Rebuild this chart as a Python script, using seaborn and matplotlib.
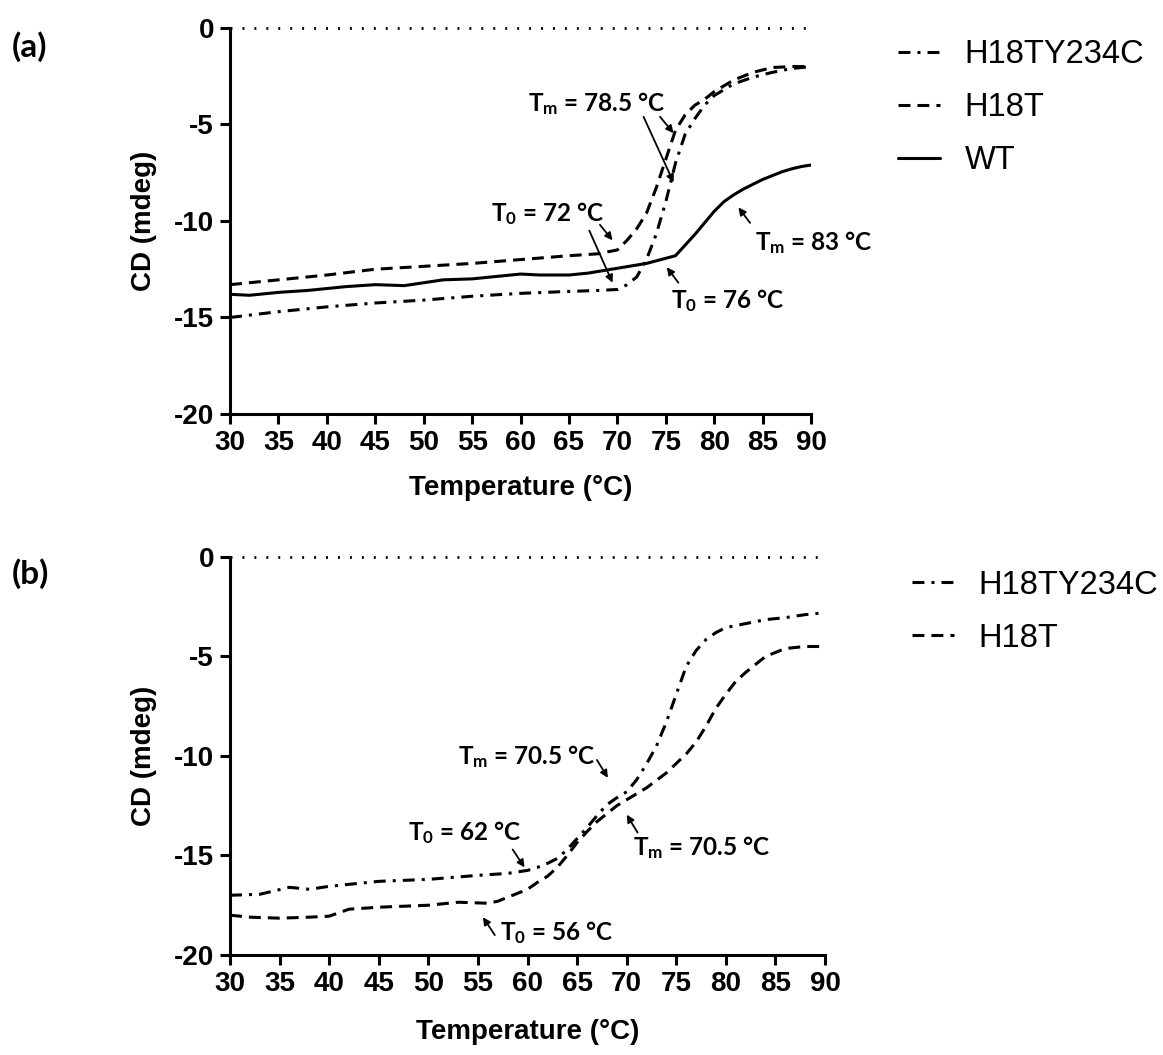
import numpy as np
import pandas as pd
import matplotlib
matplotlib.use("Agg")
import matplotlib.pyplot as plt
import seaborn as sns
from matplotlib.lines import Line2D

# ---------------- data: CD signal (mdeg) versus temperature (°C) ----------------
# panel (a)
a_wt_temp = [30, 32, 35, 38, 40, 42, 45, 48, 50, 52, 55, 58, 60, 62, 65, 67, 70, 73,
             76, 77, 78, 79, 80, 81, 82, 83, 84, 85, 86, 87, 88, 89, 90]
a_wt_cd = [-13.8, -13.85, -13.7, -13.6, -13.5, -13.4, -13.3, -13.35, -13.2, -13.05, -13.0,
           -12.85, -12.75, -12.8, -12.8, -12.7, -12.45, -12.2, -11.8, -11.25, -10.7, -10.1,
           -9.5, -9.0, -8.65, -8.35, -8.1, -7.85, -7.65, -7.45, -7.3, -7.18, -7.1]

a_h18t_temp = [30, 35, 40, 45, 50, 55, 60, 65, 68, 70, 71, 72, 73, 74, 75, 76, 77, 78,
               79, 80, 82, 84, 86, 88, 90]
a_h18t_cd = [-13.3, -13.05, -12.8, -12.5, -12.35, -12.2, -12.0, -11.8, -11.7, -11.5, -11.0,
             -10.4, -9.6, -8.3, -6.8, -5.3, -4.5, -4.0, -3.7, -3.3, -2.7, -2.3, -2.05,
             -2.0, -2.0]

a_y234c_temp = [30, 35, 40, 45, 50, 55, 60, 65, 68, 70, 71, 72, 73, 74, 75, 76, 77, 78,
                79, 80, 82, 84, 86, 88, 90]
a_y234c_cd = [-15.0, -14.7, -14.45, -14.25, -14.1, -13.9, -13.75, -13.65, -13.6, -13.55,
              -13.3, -12.9, -12.0, -10.7, -9.0, -7.0, -5.5, -4.7, -4.0, -3.5, -2.9,
              -2.55, -2.3, -2.1, -2.0]

# panel (b)
b_h18t_temp = [30, 32, 35, 38, 40, 42, 45, 50, 53, 56, 57, 58, 59, 60, 61, 62, 63, 64, 65,
               66, 67, 68, 69, 70, 72, 74, 76, 77, 78, 79, 80, 81, 82, 84, 86, 88, 90]
b_h18t_cd = [-18.0, -18.1, -18.15, -18.1, -18.05, -17.7, -17.6, -17.5, -17.35, -17.4,
             -17.3, -17.1, -16.9, -16.7, -16.35, -16.05, -15.6, -15.0, -14.35, -13.8,
             -13.3, -12.9, -12.5, -12.2, -11.6, -10.85, -9.9, -9.3, -8.5, -7.6, -6.9,
             -6.25, -5.8, -5.0, -4.6, -4.5, -4.5]

b_y234c_temp = [30, 33, 36, 38, 40, 45, 50, 55, 58, 60, 61, 62, 63, 64, 65, 66, 67, 68,
                69, 70, 71, 72, 73, 74, 75, 76, 77, 78, 79, 80, 82, 84, 86, 88, 90]
b_y234c_cd = [-17.0, -16.95, -16.6, -16.7, -16.55, -16.3, -16.2, -16.0, -15.9, -15.75,
              -15.6, -15.4, -15.15, -14.7, -14.15, -13.6, -13.0, -12.45, -12.1, -11.8,
              -11.2, -10.4, -9.5, -8.3, -6.9, -5.5, -4.7, -4.15, -3.8, -3.55, -3.35,
              -3.15, -3.05, -2.9, -2.8]

samples_a = ["H18TY234C", "H18T", "WT"]
samples_b = ["H18TY234C", "H18T"]
x_ticks = list(range(30, 91, 5))
y_ticks = list(range(-20, 1, 5))


def long_frame(curves):
    frames = []
    for name, (t, cd) in curves.items():
        frames.append(pd.DataFrame({"Temperature": t, "CD": cd, "Sample": name}))
    return pd.concat(frames, ignore_index=True)


df_a = long_frame({"H18TY234C": (a_y234c_temp, a_y234c_cd),
                   "H18T": (a_h18t_temp, a_h18t_cd),
                   "WT": (a_wt_temp, a_wt_cd)})
df_b = long_frame({"H18TY234C": (b_y234c_temp, b_y234c_cd),
                   "H18T": (b_h18t_temp, b_h18t_cd)})

# ---------------- style ----------------
sns.set_theme(style="ticks")
plt.rcParams["font.family"] = ["Liberation Sans", "DejaVu Sans"]
plt.rcParams["font.weight"] = "bold"
plt.rcParams["axes.labelweight"] = "bold"
plt.rcParams["axes.unicode_minus"] = False
plt.rcParams["mathtext.default"] = "regular"
for key in ("text.color", "axes.labelcolor", "xtick.color", "ytick.color",
            "axes.edgecolor"):
    plt.rcParams[key] = "black"

LW = 2.2
DASHES = {"H18TY234C": (3.9, 2.3, 1.0, 2.3), "H18T": (3.9, 2.3), "WT": ""}
ANN_FONT = dict(family=["Lato", "DejaVu Sans"], weight="bold", size=17.5, color="black")
ARROW = dict(arrowstyle="-|>", lw=1.3, color="black", mutation_scale=11,
             shrinkA=0, shrinkB=0)
LEGEND_FONT = dict(family="Liberation Sans", weight="normal", size=23.5)

fig = plt.figure(figsize=(11.63, 10.55), dpi=100)
ax_a = fig.add_axes([0.1978, 0.6076, 0.4996, 0.3659])
ax_b = fig.add_axes([0.1978, 0.0948, 0.5116, 0.3773])


def draw_panel(ax, df, order, xpad):
    sns.lineplot(data=df, x="Temperature", y="CD", style="Sample", style_order=order,
                 dashes=DASHES, color="black", linewidth=LW, estimator=None,
                 sort=False, legend=False, ax=ax)
    ax.axhline(0, color="black", lw=2.0, ls=(0, (0.7, 3.6)), clip_on=False)
    ax.set_xlim(30, 90)
    ax.set_ylim(-20, 0)
    ax.set_xticks(x_ticks)
    ax.set_yticks(y_ticks)
    sns.despine(ax=ax)
    for side in ("left", "bottom"):
        ax.spines[side].set_linewidth(LW)
        ax.spines[side].set_color("black")
    ax.tick_params(direction="out", length=7.5, width=LW, labelsize=20, pad=4,
                   colors="black")
    ax.set_xlabel("Temperature (°C)", fontsize=20, fontweight="bold", labelpad=xpad)
    ax.set_ylabel("CD (mdeg)", fontsize=20, fontweight="bold", labelpad=12)

    handles = [Line2D([], [], color="black", lw=LW,
                      **({"dashes": DASHES[s]} if DASHES[s] else {"ls": "-"}))
               for s in order]
    return handles


def note(ax, text, pos, arrows):
    ax.text(pos[0], pos[1], text, ha="left", va="center", fontdict=ANN_FONT,
            clip_on=False)
    for tail, head in arrows:
        ax.annotate("", xy=head, xytext=tail, arrowprops=ARROW, annotation_clip=False)


# panel (a)
h_a = draw_panel(ax_a, df_a, samples_a, xpad=14)
note(ax_a, r"T$_\mathregular{m}$ = 78.5 °C", (60.8, -3.9),
     [((74.4, -4.6), (75.8, -5.45)), ((72.7, -4.6), (75.8, -8.0))])
note(ax_a, r"T$_\mathregular{0}$ = 72 °C", (56.9, -9.6),
     [((68.2, -10.2), (69.5, -11.0)), ((67.1, -10.5), (69.5, -13.2))])
note(ax_a, r"T$_\mathregular{0}$ = 76 °C", (75.5, -14.1),
     [((76.3, -13.2), (75.1, -12.4))])
note(ax_a, r"T$_\mathregular{m}$ = 83 °C", (84.2, -11.1),
     [((83.7, -10.1), (82.5, -9.3))])
ax_a.legend(h_a, samples_a, loc="upper left", bbox_to_anchor=(0.772, 0.963),
            bbox_transform=fig.transFigure, frameon=False, borderpad=0,
            borderaxespad=0, handlelength=1.3, handletextpad=0.75, labelspacing=0.68,
            prop=LEGEND_FONT)

# panel (b)
h_b = draw_panel(ax_b, df_b, samples_b, xpad=16)
note(ax_b, r"T$_\mathregular{m}$ = 70.5 °C", (53.0, -10.05),
     [((67.0, -10.2), (68.1, -11.1))])
note(ax_b, r"T$_\mathregular{m}$ = 70.5 °C", (70.6, -14.6),
     [((71.1, -13.85), (70.0, -12.95))])
note(ax_b, r"T$_\mathregular{0}$ = 62 °C", (47.9, -13.85),
     [((58.5, -14.7), (59.7, -15.6))])
note(ax_b, r"T$_\mathregular{0}$ = 56 °C", (57.2, -18.85),
     [((56.7, -19.0), (55.5, -18.1))])
ax_b.legend(h_b, samples_b, loc="upper left", bbox_to_anchor=(0.784, 0.460),
            bbox_transform=fig.transFigure, frameon=False, borderpad=0,
            borderaxespad=0, handlelength=1.3, handletextpad=0.75, labelspacing=0.68,
            prop=LEGEND_FONT)

# panel letters
for label, y in (("(a)", 0.956), ("(b)", 0.456)):
    fig.text(0.0103, y, label, ha="left", va="center", fontsize=24,
             fontweight="bold", family=["Lato", "DejaVu Sans"], color="black")

fig.savefig("out.png", dpi=100)
